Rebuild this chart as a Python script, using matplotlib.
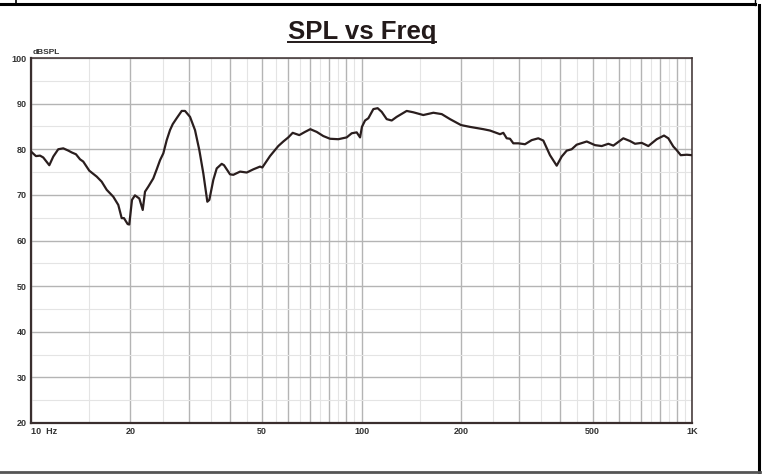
import numpy as np
import matplotlib
matplotlib.use("Agg")
import matplotlib.pyplot as plt
from matplotlib.lines import Line2D

plt.rcParams['font.family'] = ['Liberation Sans', 'DejaVu Sans']

# frequency response (Hz, dBSPL)
freq = [10.0, 10.35, 10.65, 10.89, 11.36, 11.68, 12.09, 12.52, 12.97, 13.28,
        13.68, 14.07, 14.39, 15.01, 15.81, 16.36, 16.95, 17.74, 18.37, 18.81,
        19.11, 19.61, 19.83, 20.21, 20.63, 21.27, 21.78, 22.13, 22.64, 23.44,
        24.01, 24.57, 25.14, 25.74, 26.34, 26.84, 27.59, 28.58, 29.24, 30.28,
        31.35, 32.31, 33.22, 34.16, 34.64, 35.62, 36.47, 37.76, 38.37, 40.02,
        40.95, 42.91, 44.96, 47.07, 49.31, 50.1, 52.86, 56.0, 58.0, 60.05,
        61.92, 64.83, 67.45, 70.0, 73.2, 76.6, 80.3, 85.1, 90.2, 93.4,
        96.7, 99.0, 100.3, 102.5, 104.9, 108.6, 111.9, 115.1, 119.2, 123.4,
        127.8, 137.0, 143.5, 153.8, 165.0, 174.9, 185.3, 200.0, 213.0, 233.7,
        244.8, 262.5, 268.6, 275.0, 281.4, 288.0, 298.2, 312.4, 327.3, 342.7,
        354.9, 371.8, 389.6, 403.4, 417.8, 432.5, 447.8, 480.3, 508.8, 533.2,
        558.3, 578.1, 619.7, 649.3, 672.3, 704.5, 737.7, 782.1, 822.9, 847.9,
        877.9, 899.0, 924.4, 964.0, 1000.0]
spl = [79.5, 78.5, 78.6, 78.2, 76.5, 78.4, 80.0, 80.2, 79.7, 79.3,
       78.9, 77.8, 77.3, 75.3, 74.0, 72.9, 71.1, 69.6, 67.8, 64.9,
       64.9, 63.6, 63.5, 68.9, 69.9, 69.2, 66.7, 70.7, 71.8, 73.6,
       75.6, 77.6, 79.1, 82.0, 84.2, 85.5, 86.8, 88.4, 88.4, 87.1,
       84.2, 79.8, 74.7, 68.5, 68.9, 73.3, 75.8, 76.8, 76.5, 74.5,
       74.4, 75.1, 74.9, 75.6, 76.2, 76.0, 78.5, 80.7, 81.7, 82.6,
       83.6, 83.1, 83.8, 84.4, 83.8, 82.9, 82.3, 82.2, 82.6, 83.5,
       83.7, 82.6, 84.9, 86.3, 86.8, 88.8, 89.0, 88.2, 86.6, 86.3,
       87.1, 88.4, 88.1, 87.5, 88.0, 87.7, 86.6, 85.3, 84.9, 84.4,
       84.1, 83.3, 83.6, 82.4, 82.3, 81.3, 81.3, 81.1, 82.0, 82.4,
       81.9, 78.7, 76.4, 78.4, 79.7, 80.0, 81.0, 81.7, 80.9, 80.7,
       81.2, 80.8, 82.4, 81.8, 81.2, 81.4, 80.7, 82.2, 83.0, 82.4,
       80.6, 79.8, 78.7, 78.8, 78.7]

x_major = [10, 20, 30, 40, 50, 60, 70, 80, 90, 100, 200, 300, 400, 500, 600, 700, 800, 900, 1000]
x_labels = {10: '10  Hz', 20: '20', 50: '50', 100: '100', 200: '200', 500: '500', 1000: '1K'}
x_minor = [15, 25, 35, 45, 55, 65, 75, 85, 95, 150, 250, 350, 450, 550, 650, 750, 850, 950]
y_major = [20, 30, 40, 50, 60, 70, 80, 90, 100]
y_minor = [25, 35, 45, 55, 65, 75, 85, 95]

W, H = 763, 474
fig = plt.figure(figsize=(W / 100, H / 100), dpi=100)
ax = fig.add_axes([31 / W, (H - 423) / H, 661 / W, 365 / H])

ax.plot(freq, spl, color='#2a1e1e', lw=1.6, solid_joinstyle='round', zorder=3)

ax.set_xscale('log')
ax.set_xlim(10, 1000)
ax.set_ylim(20, 100)
ax.set_xticks(x_major)
ax.set_xticklabels([x_labels.get(v, '') for v in x_major])
ax.set_xticks(x_minor, minor=True)
ax.set_yticks(y_major)
ax.set_yticks(y_minor, minor=True)
ax.tick_params(which='both', length=0)
ax.tick_params(axis='both', labelsize=6.5, labelcolor='#333333', pad=3)
for lab in ax.get_xticklabels() + ax.get_yticklabels():
    lab.set_fontweight('bold')
ax.get_xticklabels()[0].set_horizontalalignment('left')
ax.xaxis.set_minor_formatter(plt.NullFormatter())

ax.grid(which='major', color='#b4b4b4', lw=1.0)
ax.grid(which='minor', color='#e4e4e4', lw=0.8)
ax.set_axisbelow(True)

for side in ['left', 'bottom']:
    ax.spines[side].set_linewidth(1.6)
    ax.spines[side].set_color('#3a2e2e')
for side in ['top', 'right']:
    ax.spines[side].set_linewidth(1.1)
    ax.spines[side].set_color('#3a2e2e')

ax.text(0.002, 1.006, 'dBSPL', transform=ax.transAxes, ha='left', va='bottom',
        fontsize=6, fontweight='bold', color='#333333')

# underlined title
title = fig.text(362 / W, 1 - 32 / H, 'SPL vs Freq', ha='center', va='center',
                 fontsize=18.5, fontweight='bold', color='#231a1a')
fig.canvas.draw()
bb = title.get_window_extent(fig.canvas.get_renderer())
fig.add_artist(Line2D([bb.x0 / W, bb.x1 / W], [1 - 42.3 / H, 1 - 42.3 / H],
                      color='#231a1a', lw=1.4))

# outer frame
fig.add_artist(Line2D([0, 755 / W], [1 - 4 / H, 1 - 4 / H], color='black', lw=2.2))
fig.add_artist(Line2D([16 / W, 16 / W], [1, 1 - 5 / H], color='black', lw=1.2))
fig.add_artist(Line2D([755 / W, 755 / W], [1, 1 - 5 / H], color='black', lw=1.0))
fig.add_artist(Line2D([759 / W, 759 / W], [1 - 5 / H, 1 - 472 / H], color='black', lw=2.2))
fig.add_artist(Line2D([0, 760 / W], [1 - 472 / H, 1 - 472 / H], color='#555555', lw=2.0))

fig.savefig('out.png', dpi=100)
